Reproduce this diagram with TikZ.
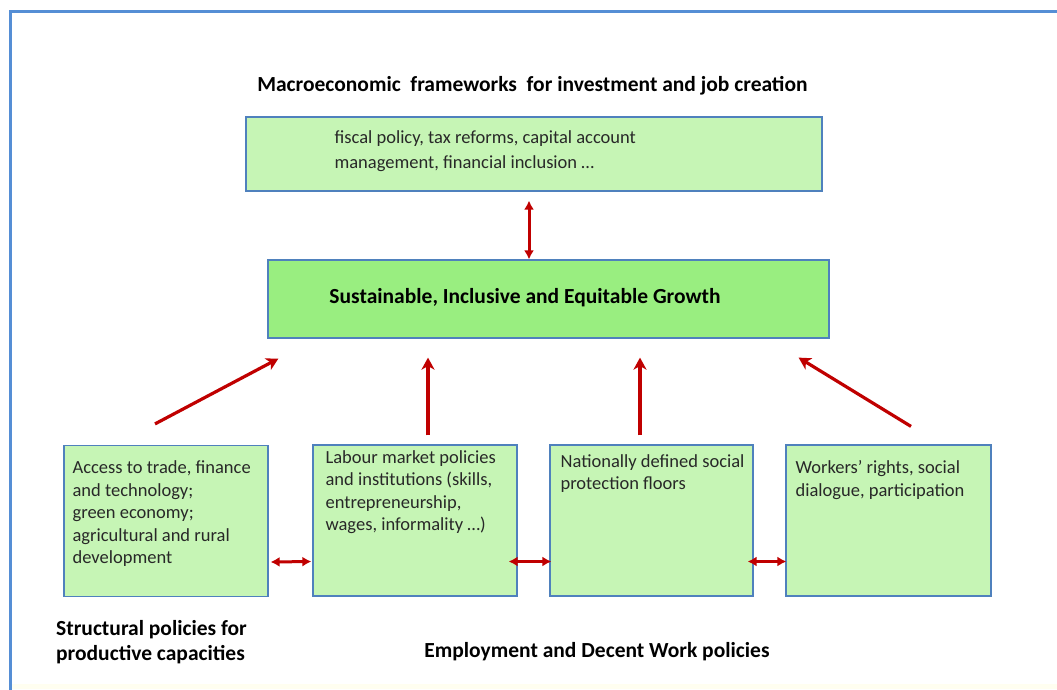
\documentclass[tikz,border=0pt]{standalone}
\usepackage{fontspec}
\setmainfont{Carlito}
\usetikzlibrary{arrows.meta,calc}
\definecolor{boxfill}{RGB}{198,245,181}
\definecolor{growfill}{RGB}{153,238,128}
\definecolor{boxline}{RGB}{79,129,189}
\definecolor{framecol}{RGB}{85,142,213}
\definecolor{arrred}{RGB}{192,0,0}
\definecolor{txt}{RGB}{40,40,40}
\tikzset{
  pbox/.style={draw=boxline, line width=1.2pt, fill=boxfill, inner sep=0pt},
  gbox/.style={draw=boxline, line width=1.2pt, fill=growfill, inner sep=0pt},
  btext/.style={anchor=north west, inner sep=0pt, align=left, text=txt,
     font=\fontsize{18.5}{22.4}\selectfont},
  heading/.style={inner sep=0pt, text=black, font=\fontsize{21.5}{25}\selectfont\bfseries},
  uparr/.style={draw=arrred, line width=3.2pt, -{Stealth[length=12pt,width=13pt,inset=3.5pt]}},
  dblarr/.style={draw=arrred, line width=3pt, {Latex[length=9pt,width=10pt]}-{Latex[length=9pt,width=10pt]}}
}
\begin{document}
\begin{tikzpicture}[x=1pt,y=-1pt]
\useasboundingbox (0,0) rectangle (1057,689);
\fill[white] (0,0) rectangle (1057,689);
\fill[yellow!6] (12,684) rectangle (1057,689);
\draw[framecol, line width=3pt] (1070,11.5) -- (10.5,11.5) -- (10.5,700);

% headings
\node[heading] (title) at (532.5,85.5) {Macroeconomic\ \ frameworks\ \ for investment and job creation};

% top box
\node[pbox, minimum width=576pt, minimum height=74pt] (macro) at (534,154) {};
\node[btext, font=\fontsize{18.5}{25}\selectfont] (macrotext) at ([xshift=89pt,yshift=-14pt]macro.north west)
  {fiscal policy, tax reforms, capital account\\management,\ financial inclusion \ldots};

% growth box
\node[gbox, minimum width=561pt, minimum height=78pt] (growth) at (548.5,299) {};
\node[heading] (growthtext) at (525,298)
  {Sustainable, Inclusive and Equitable Growth};

% bottom boxes
\node[pbox, minimum width=204pt, minimum height=151pt] (b1) at (166,521) {};
\node[pbox, minimum width=204pt, minimum height=151pt] (b2) at (415,520.5) {};
\node[pbox, minimum width=203pt, minimum height=151pt] (b3) at (651.5,520.5) {};
\node[pbox, minimum width=205pt, minimum height=151pt] (b4) at (888.5,520.5) {};

\node[btext] (t1) at ([xshift=9pt,yshift=-16pt]b1.north west)
  {Access to trade, finance\\and technology;\\green economy;\\agricultural and rural\\development};
\node[btext] (t2) at ([xshift=13pt,yshift=-6pt]b2.north west)
  {Labour market\ policies\\and institutions (skills,\\entrepreneurship,\\wages, informality \ldots)};
\node[btext] (t3) at ([xshift=11pt,yshift=-10pt]b3.north west)
  {Nationally defined social\\protection floors};
\node[btext] (t4) at ([xshift=10pt,yshift=-16pt]b4.north west)
  {Workers’ rights, social\\dialogue, participation};

% bottom labels
\node[heading, anchor=north west, align=left] (struct) at (56,620.5)
  {Structural policies for\\productive capacities};
\node[heading] (empl) at (597,652) {Employment and Decent Work policies};

% macro <-> growth
\coordinate (m1) at ([xshift=-5pt,yshift=-9pt]macro.south);
\coordinate (g1) at ([xshift=-19.5pt]growth.north);
\draw[dblarr] (m1) -- (g1);

% up arrows
\coordinate (s1) at ([xshift=-11pt,yshift=21pt]b1.north);
\coordinate (e1) at ([xshift=11pt,yshift=-20pt]growth.south west);
\coordinate (s2) at ([xshift=13pt,yshift=9pt]b2.north);
\coordinate (e2) at ([xshift=-120.5pt,yshift=-19pt]growth.south);
\coordinate (s3) at ([xshift=-11.5pt,yshift=9pt]b3.north);
\coordinate (e3) at ([xshift=91.5pt,yshift=-19pt]growth.south);
\coordinate (s4) at ([xshift=22.5pt,yshift=18pt]b4.north);
\coordinate (e4) at ([xshift=-31pt,yshift=-19pt]growth.south east);
\draw[uparr] (s1) -- (e1);
\draw[uparr] (s2) -- (e2);
\draw[uparr] (s3) -- (e3);
\draw[uparr] (s4) -- (e4);

% horizontal double arrows
\coordinate (h1a) at ([xshift=2pt,yshift=-41pt]b1.east);
\coordinate (h1b) at ([xshift=-1pt,yshift=-41pt]b2.west);
\coordinate (h2a) at ([xshift=-9pt,yshift=-41pt]b2.east);
\coordinate (h2b) at ([xshift=2pt,yshift=-41pt]b3.west);
\coordinate (h3a) at ([xshift=-6pt,yshift=-41pt]b3.east);
\coordinate (h3b) at ([xshift=1pt,yshift=-41pt]b4.west);
\draw[dblarr] (h1a) -- (h1b);
\draw[dblarr] (h2a) -- (h2b);
\draw[dblarr] (h3a) -- (h3b);
\end{tikzpicture}
\end{document}
